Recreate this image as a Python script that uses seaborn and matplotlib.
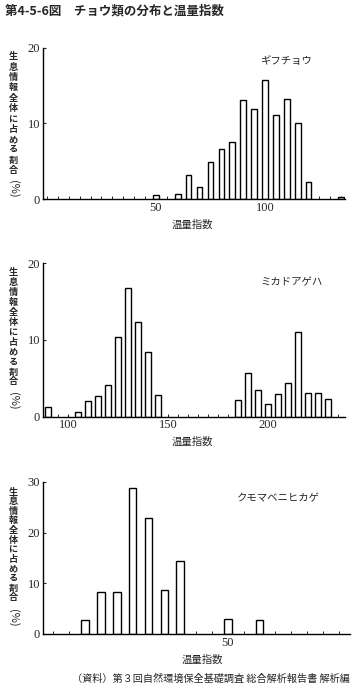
import pandas as pd
import seaborn as sns
import matplotlib.pyplot as plt
from matplotlib.ticker import MultipleLocator

sns.set_style("ticks")
plt.rcParams['font.family'] = ['Noto Sans CJK JP', 'DejaVu Sans']

W, H = 352, 688

# ギフチョウ
gifu_index = [50, 60, 65, 70, 75, 80, 85, 90, 95, 100, 105, 110, 115, 120, 135]
gifu_pct = [0.5, 0.6, 3.2, 1.6, 4.9, 6.6, 7.5, 13.1, 11.9, 15.7, 11.1, 13.2, 10.1, 2.2, 0.2]

# ミカドアゲハ
mikado_index = [90, 105, 110, 115, 120, 125, 130, 135, 140, 145,
                185, 190, 195, 200, 205, 210, 215, 220, 225, 230]
mikado_pct = [1.3, 0.6, 2.1, 2.7, 4.1, 10.4, 16.8, 12.3, 8.4, 2.8,
              2.2, 5.7, 3.5, 1.6, 2.9, 4.4, 11.0, 3.1, 3.1, 2.3]

# クモマベニヒカゲ
kumoma_index = [5, 10, 15, 20, 25, 30, 35, 50, 60]
kumoma_pct = [2.8, 8.2, 8.2, 28.8, 22.8, 8.6, 14.5, 2.9, 2.7]

species = ["ギフチョウ", "ミカドアゲハ", "クモマベニヒカゲ"]
x_ticks = [[50, 100], [100, 150, 200], [50]]
y_ticks = [[0, 10, 20], [0, 10, 20], [0, 10, 20, 30]]

title = "第4-5-6図　チョウ類の分布と温量指数"
ylabel_chars = "生息情報全体に占める割合"
xlabel = "温量指数"
source = "（資料）第３回自然環境保全基礎調査 総合解析報告書 解析編"

# layout (pixels): axes box, limits, bar width, label placement
panels = [
    dict(x=gifu_index, y=gifu_pct, box=(43, 48, 345, 199), xlim=(-1.8, 136.7),
         width=0.52, name_xy=(260, 61), lab=(57, 10.3, 189), xl=(192, 225)),
    dict(x=mikado_index, y=mikado_pct, box=(43, 263.3, 345, 416.7), xlim=(87.4, 238.5),
         width=0.6, name_xy=(260, 282), lab=(273, 9.9, 401), xl=(192, 442)),
    dict(x=kumoma_index, y=kumoma_pct, box=(43, 482, 350, 634), xlim=(-8.3, 88.6),
         width=0.48, name_xy=(237, 498), lab=(492, 9.6, 618), xl=(202, 660)),
]

fig = plt.figure(figsize=(W / 100, H / 100), dpi=100)
serif = "Liberation Serif"

for i, p in enumerate(panels):
    x0, y0, x1, y1 = p["box"]
    ax = fig.add_axes([x0 / W, 1 - y1 / H, (x1 - x0) / W, (y1 - y0) / H])
    df = pd.DataFrame({"index": p["x"], "pct": p["y"]})
    sns.barplot(data=df, x="index", y="pct", native_scale=True, width=p["width"],
                color="white", edgecolor="black", linewidth=1.0, saturation=1,
                errorbar=None, ax=ax)
    ax.set_xlim(*p["xlim"])
    ax.set_ylim(0, max(y_ticks[i]))
    ax.set_xticks(x_ticks[i])
    ax.set_yticks(y_ticks[i])
    ax.xaxis.set_minor_locator(MultipleLocator(5))
    ax.tick_params(axis="both", which="major", direction="in", length=2.5, width=0.8,
                   labelsize=9, pad=2)
    ax.tick_params(axis="x", which="minor", direction="in", length=2, width=0.7)
    for lab in ax.get_xticklabels() + ax.get_yticklabels():
        lab.set_family(serif)
    ax.set_xlabel("")
    ax.set_ylabel("")
    sns.despine(ax=ax)
    for s in ("left", "bottom"):
        ax.spines[s].set_linewidth(1.0)
        ax.spines[s].set_color("black")

    fig.text(p["name_xy"][0] / W, 1 - p["name_xy"][1] / H, species[i],
             fontsize=7.5, ha="left", va="center")
    fig.text(p["xl"][0] / W, 1 - p["xl"][1] / H, xlabel, fontsize=7.5,
             ha="center", va="center")

    # vertical (stacked) y label
    top, step, pct_y = p["lab"]
    for k, ch in enumerate(ylabel_chars):
        fig.text(13 / W, 1 - (top + k * step) / H, ch, fontsize=6.6,
                 fontweight="bold", ha="center", va="center")
    fig.text(13 / W, 1 - pct_y / H, "(%)", fontsize=8, rotation=270,
             ha="center", va="center")

fig.text(5 / W, 1 - 11 / H, title, fontsize=9, fontweight="bold",
         ha="left", va="center")
fig.text(350 / W, 1 - 679 / H, source, fontsize=7.3, ha="right", va="center")

fig.savefig("out.png", dpi=100)
